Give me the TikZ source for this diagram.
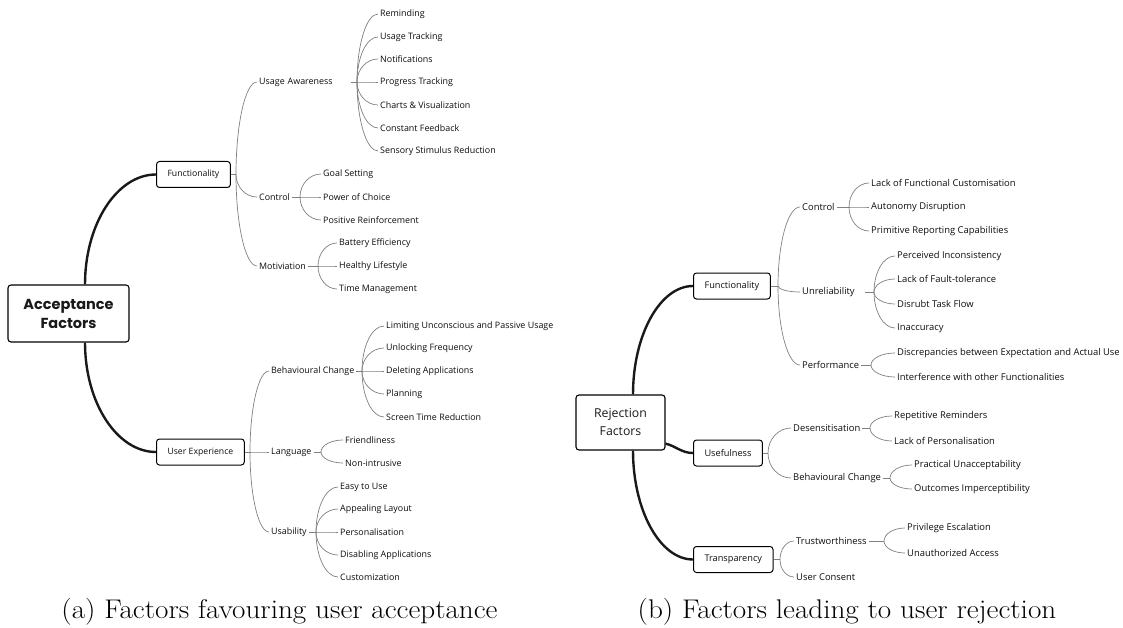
\documentclass[tikz,border=0pt]{standalone}
\usepackage{fontspec}
\newfontfamily\mapfont{Open Sans}
\newfontfamily\rootfont{Poppins}
\usetikzlibrary{positioning,calc}

\begin{document}
\begin{tikzpicture}[x=1pt,y=-1pt,
    brnch/.style={to path={.. controls ($(\tikztostart)!.55!(\tikztostart |- \tikztotarget)$)
        and ($(\tikztotarget)!.55!(\tikztostart |- \tikztotarget)$) .. (\tikztotarget)}}]
    \useasboundingbox (0,0) rectangle (1123,628);

    % root boxes
    \begin{scope}[every node/.style={draw,line width=1.1pt,rounded corners=3pt,align=center,text=black!90}]
        \node[minimum width=121pt,minimum height=57pt,font=\rootfont\bfseries\fontsize{14.5}{19}\selectfont] (acc) at (68.5,313.5) {Acceptance\\Factors};
        \node[minimum width=89pt,minimum height=55pt,font=\mapfont\fontsize{12.3}{18}\selectfont] (rej) at (620.5,422.5) {Rejection\\Factors};
    \end{scope}

    % first level boxes
    \begin{scope}[every node/.style={draw,line width=1pt,rounded corners=3pt,anchor=west,minimum height=26pt,inner xsep=11pt,text=black!95}]
        \node[font=\mapfont\fontsize{8.7}{10}\selectfont] (func) at (156,174.5) {Functionality};
        \node[font=\mapfont\fontsize{8.7}{10}\selectfont] (ux) at (156,452) {User Experience};
        \node[font=\mapfont\fontsize{9.2}{10}\selectfont] (rfunc) at (693,286) {Functionality};
        \node[font=\mapfont\fontsize{9.2}{10}\selectfont] (usef) at (693,453) {Usefulness};
        \node[font=\mapfont\fontsize{9.2}{10}\selectfont] (transp) at (693,559.5) {Transparency};
    \end{scope}

    % labels of the left map
    \begin{scope}[every node/.style={anchor=west,inner xsep=2pt,inner ysep=1pt,text=black!95,font=\mapfont\fontsize{8.9}{10}\selectfont}]
        \node[text width=90pt] (ua) at (257,82) {Usage Awareness};
        \node (ua1) at (378,14) {Reminding};
        \node (ua2) at (378,37) {Usage Tracking};
        \node (ua3) at (378,59) {Notifications};
        \node (ua4) at (378,82) {Progress Tracking};
        \node (ua5) at (378,105) {Charts \& Visualization};
        \node (ua6) at (378,128) {Constant Feedback};
        \node (ua7) at (378,151) {Sensory Stimulus Reduction};
        \node (ctl) at (257,197) {Control};
        \node (ctl1) at (321,174) {Goal Setting};
        \node (ctl2) at (321,197) {Power of Choice};
        \node (ctl3) at (321,220) {Positive Reinforcement};
        \node (mot) at (257,266) {Motiviation};
        \node (mot1) at (337,243) {Battery Efficiency};
        \node (mot2) at (337,266) {Healthy Lifestyle};
        \node (mot3) at (337,289) {Time Management};

        \node (bc) at (269,371) {Behavioural Change};
        \node (bc1) at (384,326) {Limiting Unconscious and Passive Usage};
        \node (bc2) at (384,348) {Unlocking Frequency};
        \node (bc3) at (384,371) {Deleting Applications};
        \node (bc4) at (384,394) {Planning};
        \node (bc5) at (384,417) {Screen Time Reduction};
        \node (lang) at (269,452) {Language};
        \node (lang1) at (343,440) {Friendliness};
        \node (lang2) at (343,463) {Non-intrusive};
        \node (usa) at (269,532) {Usability};
        \node (usa1) at (338,487) {Easy to Use};
        \node (usa2) at (338,509) {Appealing Layout};
        \node (usa3) at (338,532) {Personalisation};
        \node (usa4) at (338,555) {Disabling Applications};
        \node (usa5) at (338,577) {Customization};
    \end{scope}

    % labels of the right map
    \begin{scope}[every node/.style={anchor=west,inner xsep=2pt,inner ysep=1pt,text=black!95,font=\mapfont\fontsize{9.4}{11}\selectfont}]
        \node (rctl) at (800,207) {Control};
        \node (rctl1) at (869,183) {Lack of Functional Customisation};
        \node (rctl2) at (869,207) {Autonomy Disruption};
        \node (rctl3) at (869,231) {Primitive Reporting Capabilities};
        \node[text width=61pt] (unr) at (800,292) {Unreliability};
        \node (unr1) at (895,256) {Perceived Inconsistency};
        \node (unr2) at (895,279) {Lack of Fault-tolerance};
        \node (unr3) at (895,304) {Disrubt Task Flow};
        \node (unr4) at (895,328) {Inaccuracy};
        \node (perf) at (800,365) {Performance};
        \node (perf1) at (895,353) {Discrepancies between Expectation and Actual Use};
        \node (perf2) at (895,377) {Interference with other Functionalities};

        \node (des) at (791,428) {Desensitisation};
        \node (des1) at (892,416) {Repetitive Reminders};
        \node (des2) at (892,441) {Lack of Personalisation};
        \node (bch) at (791,478) {Behavioural Change};
        \node (bch1) at (912,465) {Practical Unacceptability};
        \node (bch2) at (912,489) {Outcomes Imperceptibility};
        \node (trust) at (794,541) {Trustworthiness};
        \node (trust1) at (905,528) {Privilege Escalation};
        \node (trust2) at (905,553) {Unauthorized Access};
        \node (cons) at (794,577) {User Consent};
    \end{scope}

    % branching points
    \coordinate (funcB) at (236,174.5);
    \coordinate (uxB) at (250,452);
    \coordinate (uaB) at (357,82);
    \coordinate (ctlB) at (300,197);
    \coordinate (motB) at (318,266);
    \coordinate (bcB) at (362,371);
    \coordinate (langB) at (321,452);
    \coordinate (usaB) at (316,532);
    \coordinate (rfuncB) at (778,286);
    \coordinate (usefB) at (768,453);
    \coordinate (transpB) at (780,559.5);
    \coordinate (rctlB) at (849,207);
    \coordinate (unrB) at (874,292);
    \coordinate (perfB) at (871,365);
    \coordinate (desB) at (870,428);
    \coordinate (bchB) at (890,478);
    \coordinate (trustB) at (884,541);

    % thick branches from the roots
    \begin{scope}[every path/.style={draw=black!90,line width=2.4pt}]
        \path ([xshift=16.5pt]acc.north) edge[brnch] (func.west);
        \path ([xshift=16.5pt]acc.south) edge[brnch] (ux.west);
        \path ([xshift=12.5pt]rej.north) edge[brnch] (rfunc.west);
        \path ([yshift=7pt]rej.south east) edge[out=-15,in=180] (usef.west);
        \path ([xshift=12.5pt]rej.south) edge[brnch] (transp.west);
    \end{scope}

    % thin branches
    \begin{scope}[every path/.style={draw=black!50,line width=.7pt}]
        \path (func) edge (funcB);
        \path (funcB) edge[brnch] (ua.west) edge[brnch] (ctl.west) edge[brnch] (mot.west);
        \path (ua) edge (uaB);
        \path (uaB) edge[brnch] (ua1.west) edge[brnch] (ua2.west) edge[brnch] (ua3.west) edge[brnch] (ua4.west)
            edge[brnch] (ua5.west) edge[brnch] (ua6.west) edge[brnch] (ua7.west);
        \path (ctl) edge (ctlB);
        \path (ctlB) edge[brnch] (ctl1.west) edge[brnch] (ctl2.west) edge[brnch] (ctl3.west);
        \path (mot) edge (motB);
        \path (motB) edge[brnch] (mot1.west) edge[brnch] (mot2.west) edge[brnch] (mot3.west);

        \path (ux) edge (uxB);
        \path (uxB) edge[brnch] (bc.west) edge[brnch] (lang.west) edge[brnch] (usa.west);
        \path (bc) edge (bcB);
        \path (bcB) edge[brnch] (bc1.west) edge[brnch] (bc2.west) edge[brnch] (bc3.west) edge[brnch] (bc4.west)
            edge[brnch] (bc5.west);
        \path (lang) edge (langB);
        \path (langB) edge[brnch] (lang1.west) edge[brnch] (lang2.west);
        \path (usa) edge (usaB);
        \path (usaB) edge[brnch] (usa1.west) edge[brnch] (usa2.west) edge[brnch] (usa3.west) edge[brnch] (usa4.west)
            edge[brnch] (usa5.west);

        \path (rfunc) edge (rfuncB);
        \path (rfuncB) edge[brnch] (rctl.west) edge[brnch] (unr.west) edge[brnch] (perf.west);
        \path (rctl) edge (rctlB);
        \path (rctlB) edge[brnch] (rctl1.west) edge[brnch] (rctl2.west) edge[brnch] (rctl3.west);
        \path (unr) edge (unrB);
        \path (unrB) edge[brnch] (unr1.west) edge[brnch] (unr2.west) edge[brnch] (unr3.west) edge[brnch] (unr4.west);
        \path (perf) edge (perfB);
        \path (perfB) edge[brnch] (perf1.west) edge[brnch] (perf2.west);

        \path (usef) edge (usefB);
        \path (usefB) edge[brnch] (des.west) edge[brnch] (bch.west);
        \path (des) edge (desB);
        \path (desB) edge[brnch] (des1.west) edge[brnch] (des2.west);
        \path (bch) edge (bchB);
        \path (bchB) edge[brnch] (bch1.west) edge[brnch] (bch2.west);

        \path (transp) edge (transpB);
        \path (transpB) edge[brnch] (trust.west) edge[brnch] (cons.west);
        \path (trust) edge (trustB);
        \path (trustB) edge[brnch] (trust1.west) edge[brnch] (trust2.west);
    \end{scope}

    % captions
    \node[anchor=base,xscale=1.08,transform shape,font=\fontsize{27}{32}\selectfont] (capA) at (279.5,618) {(a) Factors favouring user acceptance};
    \node[anchor=base,xscale=1.08,transform shape,font=\fontsize{27}{32}\selectfont] (capB) at (847,618) {(b) Factors leading to user rejection};
\end{tikzpicture}
\end{document}
